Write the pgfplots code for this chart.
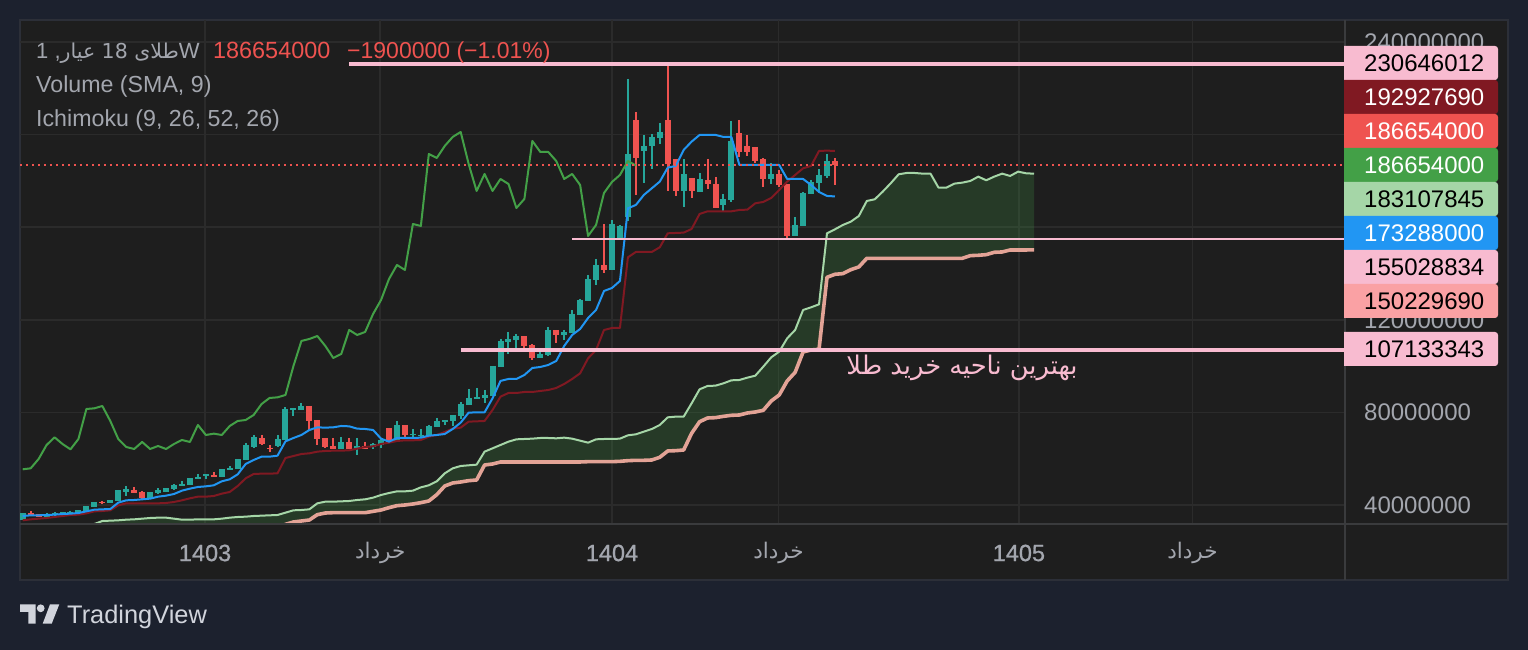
\documentclass[border=0pt]{standalone}
\usepackage{pgfplots}
\usepackage{pgfplotstable}
\usepackage{fontspec}
\pgfplotsset{compat=1.18}
\setmainfont{Liberation Sans}
\newfontfamily\medfont[FakeBold=0.8]{Liberation Sans}
\newfontfamily\arabicfont[Script=Arabic]{DejaVu Sans}
\TeXXeTstate=1
\definecolor{pagebg}{HTML}{1C212E}
\definecolor{panelbg}{HTML}{1E1E1E}
\definecolor{frameline}{HTML}{2C2F38}
\definecolor{gridc}{HTML}{2B2B2B}
\definecolor{axisc}{HTML}{3A3B3D}
\definecolor{txt}{HTML}{A3A6AE}
\definecolor{upc}{HTML}{26A69A}
\definecolor{downc}{HTML}{EF5350}
\definecolor{pinkc}{HTML}{F8BBD0}
\definecolor{tenkan}{HTML}{2196F3}
\definecolor{kijun}{HTML}{801922}
\definecolor{chikou}{HTML}{43A047}
\definecolor{spanAc}{HTML}{A5D6A7}
\definecolor{spanBc}{HTML}{E3A396}
\definecolor{labelB}{HTML}{FAA1A4}
\definecolor{logoc}{HTML}{D1D4DC}

% weekly candles, values in millions
\pgfplotstableread{
i open high low close
0 33.5 36.4 33.5 36.4
3 34.96 36.40 34.38 36.11
4 35.54 36.98 34.96 36.40
5 35.82 36.83 35.82 36.83
6 36.40 37.55 36.11 36.98
7 36.40 37.70 36.40 37.70
8 37.26 39.57 37.26 39.57
9 39.14 41.15 39.14 41.15
11 40.86 42.02 40.86 42.02
12 41.58 46.48 41.58 46.48
13 45.76 48.21 43.89 46.77
16 42.74 45.62 42.74 45.62
17 45.33 47.34 44.75 46.48
18 45.62 47.20 45.62 47.20
19 46.91 49.07 46.34 48.64
20 48.21 50.37 48.21 49.22
21 48.64 51.66 48.64 51.66
22 51.23 53.39 51.23 52.10
23 52.38 53.25 51.23 53.25
25 52.10 55.41 52.10 55.41
26 55.26 56.70 55.26 55.84
27 55.55 59.87 55.55 59.87
28 59.44 66.78 59.44 65.92
29 65.2 70.24 64.77 69.23
32 65.49 70.24 65.06 68.51
33 68.08 82.19 68.08 81.47
34 81.04 81.90 78.45 81.76
35 81.04 84.06 81.04 82.77
40 64.19 69.38 64.19 67.22
42 64.19 68.94 61.6 65.49
44 65.06 66.78 64.19 66.35
45 65.92 68.80 64.62 68.08
47 67.22 76.29 67.22 74.56
49 70.24 72.83 69.38 70.82
50 69.81 72.83 69.38 70.24
51 69.81 74.56 69.81 74.13
52 73.70 77.58 73.70 76.29
53 75.86 76.72 74.56 76.72
54 76.29 78.88 74.13 78.88
55 78.45 84.50 77.15 83.63
56 83.2 90.11 83.2 86.22
57 85.79 90.54 85.79 86.51
58 86.08 89.68 84.06 87.52
59 87.09 100.05 87.09 100.05
60 99.76 111.71 99.76 110.85
61 110.42 114.74 105.23 111.71
62 111.28 113.87 106.96 113.0
65 103.5 106.96 103.5 105.23
66 104.8 116.9 104.37 115.6
68 113.44 115.6 111.28 114.74
69 114.3 124.24 114.3 122.51
70 122.08 128.99 122.08 128.56
71 128.13 139.36 128.13 137.63
72 137.2 146.27 135.04 143.68
74 141.52 163.12 141.52 161.39
75 154.91 160.96 154.91 160.53
76 164.42 224.03 162.69 191.63
78 192.93 199.84 179.1 195.09
79 195.09 200.27 185.15 198.98
80 198.54 205.02 195.95 201.14
83 175.65 189.47 168.74 182.99
85 175.22 183.42 175.22 180.83
88 169.6 174.35 167.01 172.19
89 171.76 205.89 170.9 197.25
94 180.83 187.74 178.67 182.99
97 156.21 164.42 156.21 160.96
98 160.53 175.22 160.53 174.78
99 174.35 180.4 174.35 179.54
100 179.1 185.15 174.78 182.56
101 182.13 191.63 181.26 188.6
}\upcandles
\pgfplotstableread{
i open high low close
1 36.40 37.41 35.25 35.54
2 36.11 36.11 34.96 34.96
10 41.30 41.73 40.43 40.72
14 46.62 47.78 45.04 45.33
15 45.62 46.05 42.59 43.17
24 52.96 54.26 52.10 52.10
30 68.94 70.24 65.92 66.35
31 64.77 65.92 63.04 64.05
36 82.77 82.77 72.40 76.29
37 76.72 76.72 65.92 68.51
38 68.94 68.94 64.62 65.06
39 65.49 68.94 64.19 64.19
41 67.22 68.94 64.19 64.19
43 65.49 67.22 64.19 64.19
46 73.26 73.26 67.22 67.22
48 74.56 74.56 69.38 70.24
63 113.0 113.0 107.82 108.69
64 109.12 109.55 102.64 103.5
67 115.6 115.6 109.98 113.44
73 143.68 161.39 140.22 141.52
77 206.32 209.78 173.92 189.9
81 206.32 230.51 175.65 187.31
82 189.47 189.47 173.49 175.65
84 181.26 181.26 172.62 175.65
86 180.4 189.47 176.5 178.67
87 178.67 181.7 168.3 168.3
90 200.7 206.32 190.3 192.5
91 195.09 199.84 190.77 192.5
92 194.66 194.66 187.74 188.6
93 189.47 189.9 177.38 180.83
95 182.99 184.72 177.38 178.24
96 178.67 178.67 155.34 156.21
102 188.6 189.9 178.24 186.65
}\downcandles
% conversion line
\pgfplotstableread{
x y
0 35.25
1 35.54
2 35.54
3 35.68
4 35.82
5 36.11
6 36.26
7 36.54
8 37.26
9 37.98
10 38.13
11 38.27
12 41.01
13 42.02
14 42.16
15 42.45
16 42.74
17 43.6
18 44.03
19 44.75
20 46.19
21 47.06
22 47.78
23 48.06
24 48.5
25 50.22
26 51.09
27 53.25
28 57.71
29 59.44
30 60.88
31 60.88
32 61.31
33 67.5
34 68.94
35 70.24
36 72.4
37 73.55
38 73.41
39 73.55
40 74.13
41 73.98
42 72.98
43 72.83
44 72.4
45 68.66
46 67.36
47 68.94
48 68.94
49 68.94
50 69.09
51 69.95
52 70.24
53 70.67
54 72.83
55 75.57
56 79.89
57 80.03
58 80.03
59 86.08
60 93.6
61 94.43
62 94.43
63 96.16
64 99.18
65 99.62
66 100.48
67 102.21
68 108.69
69 113.44
70 116.03
71 120.78
72 124.24
73 132.45
74 133.74
75 136.77
76 168.16
77 169.6
78 173.92
79 176.8
80 179.68
81 185.73
82 186.45
83 193.36
84 196.96
85 199.84
86 199.84
87 199.84
88 198.98
89 198.98
90 186.88
91 186.88
92 186.88
93 186.88
94 186.88
95 186.88
96 180.83
97 180.83
98 180.83
99 178.24
100 175.22
101 173.49
102 173.29
}\tenkantab
% base line
\pgfplotstableread{
x y
0 33.38
1 33.81
2 34.1
3 34.38
4 34.82
5 35.25
6 35.68
7 35.82
8 36.4
9 37.26
10 37.41
11 37.7
12 39.86
13 40.72
14 40.72
15 40.72
16 40.72
17 40.72
18 40.86
19 41.3
20 42.02
21 42.88
22 43.6
23 43.6
24 43.89
25 44.9
26 45.62
27 48.21
28 51.52
29 53.39
30 53.54
31 53.54
32 53.68
33 60.3
34 61.17
35 62.03
36 62.32
37 63.04
38 63.33
39 63.47
40 63.47
41 63.62
42 64.34
43 65.06
44 65.34
45 66.35
46 66.93
47 67.65
48 67.94
49 67.94
50 68.08
51 69.52
52 70.24
53 71.54
54 72.98
55 73.41
56 76.0
57 76.14
58 76.29
59 81.04
60 86.8
61 88.38
62 88.38
63 88.82
64 88.82
65 89.25
66 89.68
67 90.54
68 92.27
69 94.43
70 96.88
71 103.36
72 106.96
73 115.6
74 116.46
75 116.46
76 146.99
77 149.3
78 149.3
79 149.3
80 151.31
81 157.36
82 157.5
83 157.65
84 159.23
85 165.71
86 166.86
87 166.86
88 166.86
89 166.86
90 167.44
91 167.58
92 170.32
93 170.9
94 172.62
95 176.08
96 179.68
97 182.56
98 185.44
99 186.45
100 192.93
101 193.07
102 192.93
}\kijuntab
% lagging span
\pgfplotstableread{
x y
0 55.41
1 55.84
2 59.87
3 65.92
4 69.23
5 66.35
6 64.05
7 68.51
8 81.47
9 81.76
10 82.77
11 76.29
12 68.51
13 65.06
14 64.19
15 67.22
16 64.19
17 65.49
18 64.19
19 66.35
20 68.08
21 67.22
22 74.56
23 70.24
24 70.82
25 70.24
26 74.13
27 76.29
28 76.72
29 78.88
30 83.63
31 86.22
32 86.51
33 87.52
34 100.05
35 110.85
36 111.71
37 113.0
38 108.69
39 103.5
40 105.23
41 115.6
42 113.44
43 114.74
44 122.51
45 128.56
46 137.63
47 143.68
48 141.52
49 161.39
50 160.53
51 191.63
52 189.9
53 195.09
54 198.98
55 201.14
56 187.31
57 175.65
58 182.99
59 175.65
60 180.83
61 178.67
62 168.3
63 172.19
64 197.25
65 192.5
66 192.5
67 188.6
68 180.83
69 182.99
70 178.24
71 156.21
72 160.96
73 174.78
74 179.54
75 182.56
76 188.6
77 186.65
}\chikoutab
% leading span A
\pgfplotstableread{
x y
8 30.64
9 31.79
10 33.09
11 33.23
12 33.38
13 33.66
14 33.81
15 34.1
16 34.38
17 34.53
18 34.53
19 34.1
20 33.66
21 33.66
22 33.81
23 33.81
24 33.81
25 34.1
26 34.53
27 34.82
28 34.96
29 35.25
30 35.39
31 35.54
32 35.68
33 36.69
34 37.7
35 37.84
36 38.13
37 40.72
38 41.44
39 41.44
40 41.58
41 41.73
42 42.16
43 42.45
44 43.17
45 44.32
46 45.18
47 45.9
48 45.9
49 46.19
50 47.63
51 48.5
52 50.22
53 53.68
54 55.84
55 56.85
56 57.14
57 57.42
58 63.04
59 64.48
60 65.92
61 67.36
62 68.37
63 68.51
64 68.66
65 68.94
66 68.94
67 68.8
68 69.09
69 68.66
70 67.79
71 66.93
72 68.37
73 68.51
74 68.51
75 68.66
76 70.1
77 70.53
78 71.68
79 72.83
80 74.56
81 77.87
82 78.16
83 78.16
84 83.92
85 89.97
86 91.41
87 91.55
88 92.56
89 93.86
90 94.0
91 95.01
92 95.87
93 99.76
94 103.79
95 106.24
96 112.0
97 115.6
98 124.24
99 125.39
100 126.69
101 157.36
102 159.09
103 160.96
104 162.4
105 164.85
106 171.33
107 172.05
108 175.36
109 178.96
110 182.85
111 183.42
112 183.42
113 183.14
114 183.14
115 177.09
116 177.09
117 178.82
118 179.25
119 179.97
120 181.84
121 180.26
122 181.84
123 183.14
124 182.13
125 184.0
126 183.28
127 183.11
}\spanAtab
% leading span B, listed from the newest point back
\pgfplotstableread{
x y
127 150.23
126 150.16
124 150.16
123 149.3
122 149.15
121 148.14
120 147.86
119 147.71
118 146.56
106 146.56
105 142.82
104 141.66
103 139.94
102 139.65
101 138.35
100 107.25
99 106.96
98 106.1
97 97.31
96 93.57
95 87.52
94 84.93
93 80.9
92 80.18
91 79.74
90 78.88
89 78.74
88 78.3
87 77.73
86 77.58
85 75.96
84 70.96
83 63.76
82 63.47
81 63.33
80 60.59
79 59.44
78 59.3
77 59.3
76 59.15
75 58.86
74 58.72
71 58.72
70 58.58
61 58.58
60 58.58
59 57.71
58 57.28
57 50.8
56 50.51
55 49.94
54 49.5
53 48.21
52 44.46
51 41.73
50 41.01
49 40.43
48 40.0
47 39.71
46 38.85
45 37.84
44 37.26
43 36.69
39 36.69
38 36.54
37 35.82
36 33.52
35 33.09
34 32.66
33 31.65
32 29
24 26
16 24
8 22
}\spanBtab
\pgfplotstablevertcat{\cloudtab}{\spanAtab}
\pgfplotstablevertcat{\cloudtab}{\spanBtab}

\newcommand{\pricetag}[4]{%
  \pgfmathsetmacro{\ytop}{650-#1}%
  \pgfmathsetmacro{\ybot}{650-#1-34}%
  \pgfmathsetmacro{\ybase}{650-#1-25.5}%
  \fill[#2] (1344pt,\ytop pt) [rounded corners=3pt] -- (1498pt,\ytop pt) -- (1498pt,\ybot pt) [sharp corners] -- (1344pt,\ybot pt) -- cycle;
  \node[anchor=base west,inner sep=0pt,text=#3,font=\fontsize{24}{28}\selectfont] at (1364pt,\ybase pt) {#4};%
}
\newcommand{\khordad}{\raisebox{-2pt}{\fontsize{21.5}{24}\arabicfont\selectfont\beginR خرداد\endR}}
\begin{document}
\begin{tikzpicture}[x=1pt,y=1pt]
\fill[pagebg] (0,0) rectangle (1528,650);
\fill[panelbg,draw=frameline,line width=2pt] (20,70) rectangle (1508,630);
\begin{axis}[
  at={(20pt,125pt)},anchor=south west,
  scale only axis,width=1325pt,height=505pt,
  xmin=-0.34,xmax=166.05,ymin=31.36,ymax=249.5,
  axis line style={draw=none},
  yticklabel pos=right,
  major tick length=0pt,
  grid=major,major grid style={draw=gridc,line width=1.6pt},
  xtick={22.9,44.9,74,94.9,125.1,146.9},
  xticklabels={1403,\khordad,1404,\khordad,1405,\khordad},
  ytick={40,80,120,160,200,240},
  yticklabels={40000000,80000000,120000000,160000000,200000000,240000000},
  xticklabel style={font=\medfont\fontsize{23.5}{26}\selectfont,text=txt,anchor=center,inner sep=0pt,yshift=-28pt},
  yticklabel style={font=\fontsize{24}{28}\selectfont,text=txt,anchor=west,inner sep=0pt,xshift=19pt},
  clip=true,
]
% cloud: span A forward, span B back
\addplot[fill=chikou,fill opacity=0.22,draw=none,forget plot] table[x=x,y=y] {\cloudtab} -- cycle;
\addplot[draw=spanAc,line width=2pt,line join=round,forget plot] table[x=x,y=y] {\spanAtab};
\addplot[draw=spanBc,line width=3.6pt,line join=round,forget plot] table[x=x,y=y] {\spanBtab};
% wicks
\addplot[draw=none,mark=none,forget plot,error bars/.cd,y dir=minus,y explicit,error mark=none,error bar style={draw=upc,line width=2pt}] table[x=i,y=high,y error minus expr=\thisrow{high}-\thisrow{low}] {\upcandles};
\addplot[draw=none,mark=none,forget plot,error bars/.cd,y dir=minus,y explicit,error mark=none,error bar style={draw=downc,line width=2pt}] table[x=i,y=high,y error minus expr=\thisrow{high}-\thisrow{low}] {\downcandles};
% bodies
\addplot[draw=none,mark=none,forget plot,error bars/.cd,y dir=minus,y explicit,error mark=none,error bar style={draw=upc,line width=6pt}] table[x=i,y=close,y error minus expr=\thisrow{close}-\thisrow{open}] {\upcandles};
\addplot[draw=none,mark=none,forget plot,error bars/.cd,y dir=minus,y explicit,error mark=none,error bar style={draw=downc,line width=6pt}] table[x=i,y=open,y error minus expr=\thisrow{open}-\thisrow{close}] {\downcandles};
% ichimoku lines
\addplot[draw=chikou,line width=2pt,line join=round,forget plot] table[x=x,y=y] {\chikoutab};
\addplot[draw=kijun,line width=2pt,line join=round,forget plot] table[x=x,y=y] {\kijuntab};
\addplot[draw=tenkan,line width=2pt,line join=round,forget plot] table[x=x,y=y] {\tenkantab};
% last price
\addplot[draw=downc,line width=2pt,dash pattern=on 2pt off 4pt,forget plot] coordinates {(-0.34,186.654)(166.05,186.654)};
% user lines
\addplot[draw=pinkc,line width=4pt,forget plot] coordinates {(41,230.646)(166.05,230.646)};
\addplot[draw=pinkc,line width=2pt,forget plot] coordinates {(69,155.029)(166.05,155.029)};
\addplot[draw=pinkc,line width=4pt,forget plot] coordinates {(55,107.133)(166.05,107.133)};
\end{axis}
% price axis and time axis lines
\draw[axisc,line width=2pt] (20,125.5) -- (1508,125.5);
\draw[axisc,line width=2pt] (1345,70) -- (1345,630);
% legend
\node[anchor=base west,inner sep=0pt,text=txt,font=\fontsize{22}{28}\selectfont] at (36,591) {1 ,{\arabicfont\fontsize{20.5}{28}\selectfont\beginR طلای \beginL 18\endL{} عیار\endR}W};
\node[anchor=base west,inner sep=0pt,text=downc,font=\fontsize{23.4}{28}\selectfont] at (213,591) {186654000};
\node[anchor=base west,inner sep=0pt,text=downc,font=\fontsize{23}{28}\selectfont] at (347,591) {−1900000 (−1.01\%)};
\node[anchor=base west,inner sep=0pt,text=txt,font=\fontsize{23.2}{28}\selectfont] at (36,557) {Volume (SMA, 9)};
\node[anchor=base west,inner sep=0pt,text=txt,font=\fontsize{23.2}{28}\selectfont] at (36,523) {Ichimoku (9, 26, 52, 26)};
% drawing text
\node[anchor=base,inner sep=0pt,text=pinkc,font=\arabicfont\fontsize{25.7}{30}\selectfont] at (962,275) {\beginR بهترین ناحیه خرید طلا\endR};
% price tags
\pricetag{46}{pinkc}{black}{230646012}
\pricetag{80}{kijun}{white}{192927690}
\pricetag{114}{downc}{white}{186654000}
\pricetag{148}{chikou}{white}{186654000}
\pricetag{182}{spanAc}{black}{183107845}
\pricetag{216}{tenkan}{white}{173288000}
\pricetag{250}{pinkc}{black}{155028834}
\pricetag{284}{labelB}{black}{150229690}
\pricetag{332}{pinkc}{black}{107133343}
% logo
\fill[logoc] (20,45.7) -- (35.7,45.7) -- (35.7,26.3) -- (28.3,26.3) -- (28.3,38) -- (20,38) -- cycle;
\fill[logoc] (40.7,41.7) circle (3.9);
\fill[logoc] (50,45.7) -- (59.3,45.7) -- (51.7,26.3) -- (42.7,26.3) -- cycle;
\node[anchor=base west,inner sep=0pt,text=logoc,font=\fontsize{25.4}{28}\selectfont] at (67,26) {TradingView};
\end{tikzpicture}
\end{document}
